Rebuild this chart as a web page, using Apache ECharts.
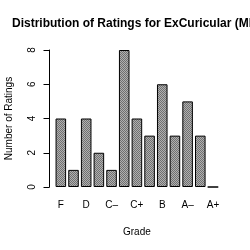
<!DOCTYPE html>
<html><head><meta charset="utf-8">
<script src="https://cdn.jsdelivr.net/npm/echarts@6/dist/echarts.min.js"></script>
<style>html,body{margin:0;padding:0;background:#fff}#c{width:250px;height:250px}</style>
</head><body><div id="c"></div>
<script>
const titleText = "Distribution of Ratings for ExCuricular (MI";
const categories = ["F","D–","D","D+","C–","C","C+","B–","B","B+","A–","A","A+"];
const counts = [4,1,4,2,1,8,4,3,6,3,5,3,0];
const yTicks = [0,2,4,6,8];

const pc = document.createElement('canvas');
pc.width = 2; pc.height = 2;
const g = pc.getContext('2d');
g.fillStyle = '#707070'; g.fillRect(0,0,2,2);
g.fillStyle = '#b0b0b0'; g.fillRect(1,0,1,1); g.fillRect(0,1,1,1);

const chart = echarts.init(document.getElementById('c'), null, {renderer:'canvas'});
chart.setOption({
  animation:false,
  textStyle:{fontFamily:'Liberation Sans'},
  graphic:[{type:'text', left:12, top:18, style:{text:titleText, font:'bold 12px "Liberation Sans"', fill:'#000'}}],
  grid:{left:54.5, right:30.7, top:50, bottom:63, containLabel:false, outerBoundsMode:'none'},
  xAxis:{type:'category', data:categories,
    axisLine:{show:false}, axisTick:{show:false},
    axisLabel:{interval:1, color:'#000', fontSize:10, margin:13},
    name:'Grade', nameLocation:'middle', nameGap:40,
    nameTextStyle:{color:'#000', fontSize:10}},
  yAxis:{type:'value', min:yTicks[0], max:yTicks[yTicks.length-1], interval:2, offset:5,
    axisLine:{show:true, lineStyle:{color:'#000', width:1}},
    axisTick:{show:true, length:6, lineStyle:{color:'#000'}},
    splitLine:{show:false},
    axisLabel:{rotate:90, color:'#000', fontSize:10, margin:12},
    name:'Number of Ratings', nameLocation:'middle', nameGap:35,
    nameTextStyle:{color:'#000', fontSize:10}},
  series:[{type:'bar', data:counts, barCategoryGap:'16.7%',
    itemStyle:{color:{image:pc, repeat:'repeat'}, borderColor:'#000', borderWidth:1}}]
});
</script></body></html>
